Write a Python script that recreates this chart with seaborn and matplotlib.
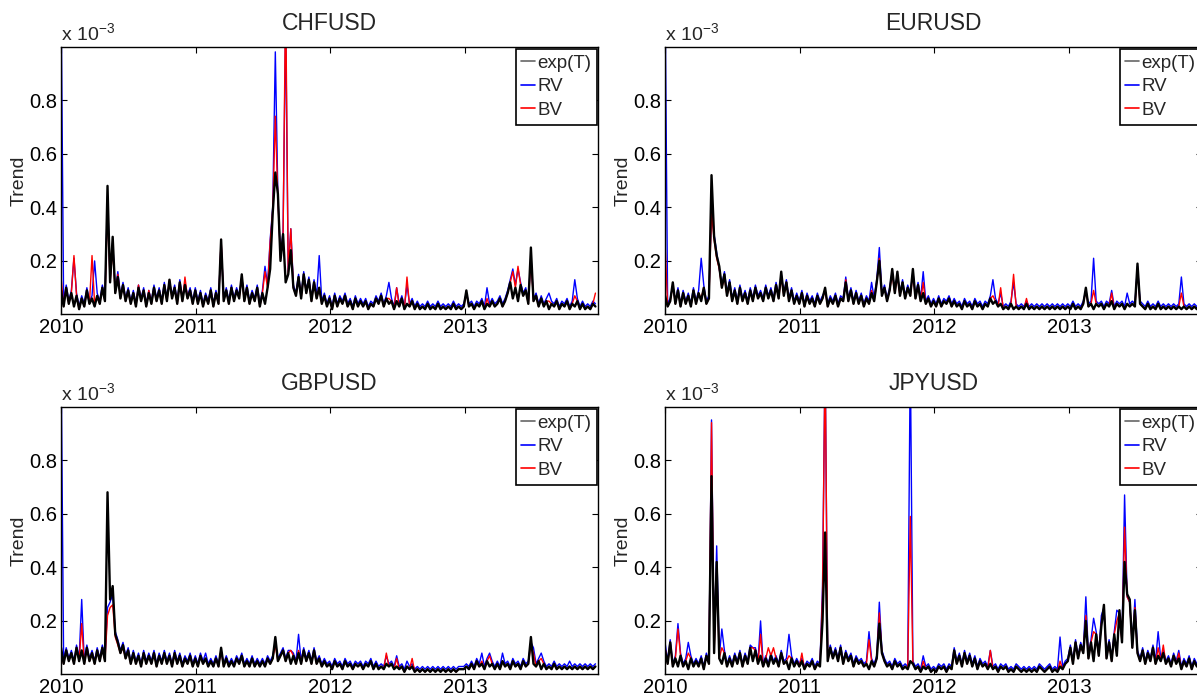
import matplotlib
matplotlib.use('Agg')
import matplotlib.pyplot as plt
import matplotlib.dates as mdates
from matplotlib.lines import Line2D
import numpy as np
import pandas as pd
import seaborn as sns

# weekly values, in units of 1e-3 (one row = one quarter)
week_dates = pd.date_range('2010-01-01', periods=208, freq='7D')
pairs = ['CHFUSD', 'EURUSD', 'GBPUSD', 'JPYUSD']
year_ticks = ['2010', '2011', '2012', '2013']
y_ticks = [0.2, 0.4, 0.6, 0.8]

chf_trend = [0.09, 0.03, 0.10, 0.04, 0.08, 0.03, 0.07, 0.02, 0.06, 0.03, 0.09, 0.04, 0.06,
             0.03, 0.07, 0.04, 0.10, 0.05, 0.48, 0.12, 0.29, 0.08, 0.14, 0.06, 0.11, 0.05,
             0.09, 0.04, 0.08, 0.03, 0.10, 0.05, 0.09, 0.03, 0.08, 0.04, 0.10, 0.05, 0.09,
             0.04, 0.11, 0.05, 0.13, 0.06, 0.10, 0.04, 0.12, 0.05, 0.11, 0.06, 0.09, 0.04,
             0.09, 0.04, 0.08, 0.03, 0.07, 0.04, 0.09, 0.03, 0.08, 0.04, 0.28, 0.05, 0.09,
             0.04, 0.10, 0.05, 0.09, 0.06, 0.15, 0.05, 0.10, 0.04, 0.08, 0.05, 0.10, 0.03,
             0.08, 0.04, 0.10, 0.17, 0.38, 0.53, 0.45, 0.20, 0.30, 0.12, 0.15, 0.24, 0.10,
             0.07, 0.14, 0.06, 0.15, 0.08, 0.13, 0.05, 0.12, 0.06, 0.10, 0.04, 0.07, 0.03,
             0.06, 0.02, 0.07, 0.03, 0.06, 0.04, 0.07, 0.03, 0.05, 0.02, 0.06, 0.03, 0.05,
             0.03, 0.05, 0.02, 0.04, 0.03, 0.06, 0.04, 0.07, 0.03, 0.06, 0.04, 0.05, 0.02,
             0.05, 0.03, 0.06, 0.02, 0.04, 0.03, 0.05, 0.02, 0.04, 0.02, 0.03, 0.02, 0.04,
             0.02, 0.03, 0.02, 0.04, 0.02, 0.03, 0.02, 0.03, 0.02, 0.04, 0.02, 0.03, 0.02,
             0.03, 0.09, 0.03, 0.04, 0.02, 0.04, 0.03, 0.05, 0.02, 0.04, 0.03, 0.05, 0.03,
             0.04, 0.06, 0.03, 0.05, 0.08, 0.12, 0.06, 0.10, 0.05, 0.11, 0.07, 0.09, 0.04,
             0.25, 0.05, 0.07, 0.03, 0.06, 0.03, 0.05, 0.02, 0.04, 0.03, 0.05, 0.02, 0.04,
             0.03, 0.05, 0.02, 0.04, 0.03, 0.05, 0.02, 0.04, 0.02, 0.03, 0.02, 0.04, 0.03]
chf_rv = [1.20, 0.04, 0.11, 0.05, 0.09, 0.21, 0.08, 0.03, 0.07, 0.04, 0.10, 0.05, 0.07,
          0.20, 0.08, 0.05, 0.11, 0.06, 0.44, 0.13, 0.27, 0.09, 0.16, 0.07, 0.12, 0.06,
          0.10, 0.05, 0.09, 0.04, 0.11, 0.06, 0.10, 0.04, 0.09, 0.05, 0.11, 0.06, 0.10,
          0.05, 0.12, 0.06, 0.12, 0.07, 0.11, 0.05, 0.13, 0.06, 0.12, 0.07, 0.10, 0.05,
          0.10, 0.05, 0.09, 0.04, 0.08, 0.05, 0.10, 0.04, 0.09, 0.05, 0.27, 0.06, 0.10,
          0.05, 0.11, 0.06, 0.10, 0.07, 0.14, 0.06, 0.11, 0.05, 0.09, 0.06, 0.11, 0.04,
          0.09, 0.18, 0.11, 0.28, 0.40, 0.98, 0.44, 0.22, 0.31, 1.10, 0.16, 0.32, 0.11,
          0.08, 0.15, 0.07, 0.16, 0.09, 0.14, 0.06, 0.13, 0.07, 0.22, 0.05, 0.08, 0.04,
          0.07, 0.03, 0.08, 0.04, 0.07, 0.05, 0.08, 0.04, 0.06, 0.03, 0.07, 0.04, 0.06,
          0.04, 0.06, 0.03, 0.05, 0.04, 0.07, 0.05, 0.08, 0.04, 0.07, 0.12, 0.06, 0.03,
          0.10, 0.04, 0.07, 0.03, 0.11, 0.04, 0.06, 0.03, 0.05, 0.03, 0.04, 0.03, 0.05,
          0.03, 0.04, 0.03, 0.05, 0.03, 0.04, 0.03, 0.04, 0.03, 0.05, 0.03, 0.04, 0.03,
          0.04, 0.08, 0.04, 0.05, 0.03, 0.05, 0.04, 0.06, 0.03, 0.10, 0.04, 0.06, 0.04,
          0.05, 0.07, 0.04, 0.06, 0.09, 0.13, 0.17, 0.11, 0.17, 0.12, 0.08, 0.10, 0.05,
          0.22, 0.06, 0.08, 0.04, 0.07, 0.04, 0.06, 0.08, 0.05, 0.04, 0.06, 0.03, 0.05,
          0.04, 0.06, 0.03, 0.05, 0.13, 0.06, 0.03, 0.05, 0.03, 0.04, 0.03, 0.05, 0.04]
chf_bv = [0.14, 0.03, 0.10, 0.04, 0.08, 0.22, 0.07, 0.02, 0.06, 0.03, 0.09, 0.04, 0.22,
          0.04, 0.07, 0.04, 0.10, 0.05, 0.40, 0.12, 0.25, 0.08, 0.15, 0.06, 0.11, 0.05,
          0.09, 0.04, 0.08, 0.03, 0.11, 0.05, 0.09, 0.03, 0.09, 0.04, 0.10, 0.05, 0.09,
          0.04, 0.11, 0.05, 0.13, 0.06, 0.10, 0.04, 0.12, 0.05, 0.14, 0.06, 0.09, 0.04,
          0.09, 0.04, 0.08, 0.03, 0.07, 0.04, 0.09, 0.03, 0.08, 0.04, 0.28, 0.05, 0.09,
          0.04, 0.10, 0.05, 0.09, 0.06, 0.14, 0.05, 0.10, 0.04, 0.08, 0.05, 0.10, 0.03,
          0.08, 0.16, 0.10, 0.27, 0.39, 0.74, 0.43, 0.21, 0.29, 1.20, 0.15, 0.32, 0.10,
          0.07, 0.14, 0.06, 0.15, 0.08, 0.13, 0.05, 0.12, 0.06, 0.10, 0.04, 0.07, 0.03,
          0.06, 0.02, 0.07, 0.03, 0.06, 0.04, 0.07, 0.03, 0.05, 0.02, 0.06, 0.03, 0.05,
          0.03, 0.05, 0.02, 0.04, 0.03, 0.06, 0.04, 0.07, 0.03, 0.06, 0.06, 0.05, 0.02,
          0.10, 0.03, 0.06, 0.02, 0.14, 0.03, 0.05, 0.02, 0.04, 0.02, 0.03, 0.02, 0.04,
          0.02, 0.03, 0.02, 0.04, 0.02, 0.03, 0.02, 0.03, 0.02, 0.04, 0.02, 0.03, 0.02,
          0.03, 0.08, 0.03, 0.04, 0.02, 0.04, 0.03, 0.05, 0.02, 0.06, 0.03, 0.05, 0.03,
          0.04, 0.06, 0.03, 0.05, 0.08, 0.12, 0.16, 0.10, 0.18, 0.11, 0.07, 0.09, 0.04,
          0.21, 0.05, 0.07, 0.03, 0.06, 0.03, 0.05, 0.05, 0.04, 0.03, 0.05, 0.02, 0.04,
          0.03, 0.05, 0.02, 0.04, 0.07, 0.05, 0.02, 0.04, 0.02, 0.03, 0.02, 0.04, 0.08]

eur_trend = [0.07, 0.03, 0.05, 0.12, 0.04, 0.09, 0.03, 0.08, 0.04, 0.07, 0.03, 0.09, 0.04,
             0.08, 0.05, 0.10, 0.04, 0.06, 0.52, 0.29, 0.22, 0.18, 0.10, 0.15, 0.07, 0.12,
             0.05, 0.09, 0.04, 0.10, 0.05, 0.08, 0.04, 0.09, 0.05, 0.10, 0.06, 0.08, 0.05,
             0.10, 0.06, 0.09, 0.05, 0.11, 0.06, 0.16, 0.07, 0.12, 0.05, 0.09, 0.04, 0.07,
             0.04, 0.08, 0.03, 0.07, 0.04, 0.06, 0.03, 0.07, 0.04, 0.06, 0.10, 0.03, 0.06,
             0.04, 0.07, 0.03, 0.06, 0.05, 0.12, 0.05, 0.09, 0.04, 0.08, 0.04, 0.07, 0.03,
             0.06, 0.04, 0.08, 0.05, 0.12, 0.20, 0.07, 0.10, 0.05, 0.09, 0.17, 0.08, 0.16,
             0.07, 0.12, 0.06, 0.10, 0.07, 0.17, 0.06, 0.11, 0.05, 0.08, 0.04, 0.06, 0.03,
             0.05, 0.03, 0.06, 0.03, 0.05, 0.04, 0.06, 0.03, 0.05, 0.03, 0.04, 0.02, 0.05,
             0.03, 0.04, 0.02, 0.05, 0.03, 0.04, 0.02, 0.04, 0.03, 0.06, 0.04, 0.05, 0.03,
             0.04, 0.02, 0.03, 0.02, 0.04, 0.02, 0.03, 0.02, 0.03, 0.02, 0.04, 0.02, 0.03,
             0.02, 0.03, 0.02, 0.03, 0.02, 0.03, 0.02, 0.03, 0.02, 0.03, 0.02, 0.03, 0.02,
             0.03, 0.02, 0.04, 0.02, 0.03, 0.02, 0.04, 0.10, 0.03, 0.04, 0.02, 0.04, 0.03,
             0.04, 0.02, 0.04, 0.03, 0.05, 0.02, 0.04, 0.03, 0.04, 0.02, 0.04, 0.03, 0.04,
             0.03, 0.19, 0.04, 0.03, 0.02, 0.04, 0.02, 0.03, 0.02, 0.04, 0.02, 0.03, 0.02,
             0.03, 0.02, 0.03, 0.02, 0.03, 0.02, 0.03, 0.02, 0.03, 0.02, 0.03, 0.02, 0.03]
eur_rv = [1.20, 0.04, 0.06, 0.11, 0.05, 0.10, 0.04, 0.09, 0.05, 0.08, 0.04, 0.10, 0.05,
          0.09, 0.21, 0.11, 0.05, 0.07, 0.41, 0.30, 0.23, 0.17, 0.11, 0.16, 0.08, 0.13,
          0.06, 0.10, 0.05, 0.11, 0.06, 0.09, 0.05, 0.10, 0.06, 0.11, 0.07, 0.09, 0.06,
          0.11, 0.07, 0.10, 0.06, 0.12, 0.07, 0.15, 0.08, 0.13, 0.06, 0.10, 0.05, 0.08,
          0.05, 0.09, 0.04, 0.08, 0.05, 0.07, 0.04, 0.08, 0.05, 0.07, 0.09, 0.04, 0.07,
          0.05, 0.08, 0.04, 0.07, 0.06, 0.14, 0.06, 0.10, 0.05, 0.09, 0.05, 0.08, 0.04,
          0.07, 0.05, 0.12, 0.06, 0.13, 0.25, 0.08, 0.11, 0.06, 0.10, 0.16, 0.09, 0.15,
          0.08, 0.13, 0.07, 0.11, 0.08, 0.16, 0.07, 0.12, 0.06, 0.16, 0.05, 0.07, 0.04,
          0.06, 0.04, 0.07, 0.04, 0.06, 0.05, 0.07, 0.04, 0.06, 0.04, 0.05, 0.03, 0.06,
          0.04, 0.05, 0.03, 0.06, 0.04, 0.05, 0.03, 0.05, 0.04, 0.07, 0.13, 0.06, 0.04,
          0.08, 0.03, 0.04, 0.03, 0.05, 0.12, 0.04, 0.03, 0.04, 0.03, 0.05, 0.03, 0.04,
          0.03, 0.04, 0.03, 0.04, 0.03, 0.04, 0.03, 0.04, 0.03, 0.04, 0.03, 0.04, 0.03,
          0.04, 0.03, 0.05, 0.03, 0.04, 0.03, 0.05, 0.09, 0.04, 0.05, 0.21, 0.05, 0.04,
          0.05, 0.03, 0.05, 0.04, 0.09, 0.03, 0.05, 0.04, 0.05, 0.03, 0.08, 0.04, 0.05,
          0.04, 0.18, 0.05, 0.04, 0.03, 0.05, 0.03, 0.04, 0.03, 0.05, 0.03, 0.04, 0.03,
          0.04, 0.03, 0.04, 0.03, 0.04, 0.14, 0.04, 0.03, 0.04, 0.03, 0.04, 0.03, 0.04]
eur_bv = [0.27, 0.03, 0.05, 0.11, 0.04, 0.09, 0.03, 0.08, 0.04, 0.07, 0.03, 0.09, 0.04,
          0.08, 0.06, 0.10, 0.04, 0.06, 0.38, 0.28, 0.21, 0.17, 0.10, 0.14, 0.07, 0.11,
          0.05, 0.09, 0.04, 0.10, 0.05, 0.08, 0.04, 0.09, 0.05, 0.10, 0.06, 0.08, 0.05,
          0.10, 0.06, 0.09, 0.05, 0.11, 0.06, 0.14, 0.07, 0.12, 0.05, 0.09, 0.04, 0.07,
          0.04, 0.08, 0.03, 0.07, 0.04, 0.06, 0.03, 0.07, 0.04, 0.06, 0.09, 0.03, 0.06,
          0.04, 0.07, 0.03, 0.06, 0.05, 0.13, 0.05, 0.09, 0.04, 0.08, 0.04, 0.07, 0.03,
          0.06, 0.04, 0.09, 0.05, 0.12, 0.21, 0.07, 0.10, 0.05, 0.09, 0.15, 0.08, 0.14,
          0.07, 0.12, 0.06, 0.10, 0.07, 0.15, 0.06, 0.11, 0.05, 0.12, 0.04, 0.06, 0.03,
          0.05, 0.03, 0.06, 0.03, 0.05, 0.04, 0.06, 0.03, 0.05, 0.03, 0.04, 0.02, 0.05,
          0.03, 0.04, 0.02, 0.05, 0.03, 0.04, 0.02, 0.04, 0.03, 0.06, 0.07, 0.05, 0.03,
          0.10, 0.02, 0.03, 0.02, 0.04, 0.15, 0.03, 0.02, 0.03, 0.02, 0.06, 0.02, 0.03,
          0.02, 0.03, 0.02, 0.03, 0.02, 0.03, 0.02, 0.03, 0.02, 0.03, 0.02, 0.03, 0.02,
          0.03, 0.02, 0.04, 0.02, 0.03, 0.02, 0.04, 0.09, 0.03, 0.04, 0.09, 0.04, 0.03,
          0.04, 0.02, 0.04, 0.03, 0.08, 0.02, 0.04, 0.03, 0.04, 0.02, 0.04, 0.03, 0.04,
          0.03, 0.17, 0.04, 0.03, 0.02, 0.04, 0.02, 0.03, 0.02, 0.04, 0.02, 0.03, 0.02,
          0.03, 0.02, 0.03, 0.02, 0.03, 0.08, 0.03, 0.02, 0.03, 0.02, 0.03, 0.02, 0.03]

gbp_trend = [0.10, 0.04, 0.09, 0.05, 0.08, 0.04, 0.10, 0.05, 0.09, 0.04, 0.10, 0.05, 0.08,
             0.04, 0.09, 0.05, 0.10, 0.05, 0.68, 0.28, 0.33, 0.15, 0.12, 0.08, 0.11, 0.06,
             0.09, 0.04, 0.08, 0.04, 0.07, 0.03, 0.08, 0.04, 0.07, 0.04, 0.08, 0.03, 0.07,
             0.04, 0.08, 0.04, 0.07, 0.03, 0.08, 0.04, 0.07, 0.03, 0.06, 0.04, 0.07, 0.03,
             0.06, 0.03, 0.07, 0.04, 0.06, 0.03, 0.05, 0.03, 0.06, 0.03, 0.10, 0.03, 0.06,
             0.03, 0.05, 0.03, 0.06, 0.04, 0.07, 0.03, 0.05, 0.03, 0.06, 0.03, 0.05, 0.03,
             0.05, 0.03, 0.06, 0.04, 0.06, 0.14, 0.05, 0.07, 0.09, 0.05, 0.08, 0.04, 0.07,
             0.04, 0.08, 0.04, 0.09, 0.05, 0.08, 0.04, 0.09, 0.04, 0.06, 0.03, 0.05, 0.03,
             0.04, 0.02, 0.05, 0.03, 0.04, 0.02, 0.05, 0.03, 0.04, 0.02, 0.04, 0.03, 0.04,
             0.02, 0.04, 0.03, 0.05, 0.02, 0.04, 0.02, 0.03, 0.02, 0.04, 0.03, 0.04, 0.02,
             0.03, 0.02, 0.03, 0.01, 0.03, 0.02, 0.03, 0.01, 0.02, 0.01, 0.02, 0.01, 0.02,
             0.01, 0.02, 0.01, 0.02, 0.01, 0.02, 0.01, 0.02, 0.01, 0.02, 0.01, 0.02, 0.02,
             0.02, 0.03, 0.02, 0.04, 0.02, 0.05, 0.03, 0.04, 0.02, 0.05, 0.03, 0.04, 0.02,
             0.04, 0.02, 0.05, 0.03, 0.04, 0.02, 0.05, 0.03, 0.04, 0.02, 0.05, 0.03, 0.04,
             0.14, 0.04, 0.03, 0.05, 0.02, 0.04, 0.02, 0.03, 0.02, 0.04, 0.02, 0.03, 0.02,
             0.03, 0.02, 0.03, 0.02, 0.03, 0.02, 0.03, 0.02, 0.03, 0.02, 0.03, 0.02, 0.03]
gbp_rv = [1.20, 0.05, 0.10, 0.06, 0.09, 0.05, 0.11, 0.06, 0.28, 0.05, 0.11, 0.06, 0.09,
          0.05, 0.10, 0.06, 0.11, 0.06, 0.25, 0.27, 0.30, 0.16, 0.13, 0.09, 0.12, 0.07,
          0.10, 0.05, 0.09, 0.05, 0.08, 0.04, 0.09, 0.05, 0.08, 0.05, 0.09, 0.04, 0.08,
          0.05, 0.09, 0.05, 0.08, 0.04, 0.09, 0.05, 0.08, 0.04, 0.07, 0.05, 0.08, 0.04,
          0.07, 0.04, 0.08, 0.05, 0.08, 0.04, 0.06, 0.04, 0.07, 0.04, 0.09, 0.04, 0.07,
          0.04, 0.06, 0.04, 0.07, 0.05, 0.08, 0.04, 0.06, 0.04, 0.07, 0.04, 0.06, 0.04,
          0.06, 0.04, 0.07, 0.05, 0.07, 0.12, 0.06, 0.08, 0.10, 0.06, 0.09, 0.09, 0.08,
          0.05, 0.15, 0.05, 0.10, 0.06, 0.09, 0.05, 0.10, 0.05, 0.07, 0.04, 0.06, 0.04,
          0.05, 0.03, 0.06, 0.04, 0.05, 0.03, 0.06, 0.04, 0.05, 0.03, 0.05, 0.04, 0.05,
          0.03, 0.05, 0.04, 0.06, 0.03, 0.05, 0.03, 0.04, 0.03, 0.07, 0.04, 0.05, 0.03,
          0.07, 0.03, 0.04, 0.02, 0.05, 0.03, 0.04, 0.02, 0.03, 0.02, 0.03, 0.02, 0.03,
          0.02, 0.03, 0.02, 0.03, 0.02, 0.03, 0.02, 0.03, 0.02, 0.03, 0.02, 0.03, 0.03,
          0.03, 0.04, 0.03, 0.05, 0.03, 0.06, 0.04, 0.08, 0.03, 0.06, 0.08, 0.05, 0.03,
          0.05, 0.03, 0.08, 0.04, 0.05, 0.03, 0.06, 0.04, 0.05, 0.03, 0.06, 0.04, 0.05,
          0.12, 0.10, 0.04, 0.06, 0.08, 0.05, 0.03, 0.04, 0.03, 0.05, 0.03, 0.04, 0.03,
          0.04, 0.03, 0.05, 0.03, 0.04, 0.03, 0.04, 0.03, 0.04, 0.03, 0.04, 0.03, 0.04]
gbp_bv = [0.08, 0.04, 0.09, 0.05, 0.08, 0.04, 0.10, 0.05, 0.19, 0.04, 0.10, 0.05, 0.08,
          0.04, 0.09, 0.05, 0.10, 0.05, 0.22, 0.25, 0.26, 0.14, 0.11, 0.08, 0.10, 0.06,
          0.09, 0.04, 0.08, 0.04, 0.07, 0.03, 0.08, 0.04, 0.07, 0.04, 0.08, 0.03, 0.07,
          0.04, 0.08, 0.04, 0.07, 0.03, 0.08, 0.04, 0.07, 0.03, 0.06, 0.04, 0.07, 0.03,
          0.06, 0.03, 0.07, 0.04, 0.06, 0.03, 0.05, 0.03, 0.06, 0.03, 0.09, 0.03, 0.06,
          0.03, 0.05, 0.03, 0.06, 0.04, 0.07, 0.03, 0.05, 0.03, 0.06, 0.03, 0.05, 0.03,
          0.05, 0.03, 0.06, 0.04, 0.06, 0.11, 0.05, 0.07, 0.09, 0.05, 0.08, 0.09, 0.07,
          0.04, 0.09, 0.04, 0.09, 0.05, 0.08, 0.04, 0.09, 0.04, 0.06, 0.03, 0.05, 0.03,
          0.04, 0.02, 0.05, 0.03, 0.04, 0.02, 0.05, 0.03, 0.04, 0.02, 0.04, 0.03, 0.04,
          0.02, 0.04, 0.03, 0.05, 0.02, 0.04, 0.02, 0.03, 0.02, 0.08, 0.03, 0.04, 0.02,
          0.06, 0.02, 0.03, 0.01, 0.03, 0.02, 0.06, 0.01, 0.02, 0.01, 0.02, 0.01, 0.02,
          0.01, 0.02, 0.01, 0.02, 0.01, 0.02, 0.01, 0.02, 0.01, 0.02, 0.01, 0.02, 0.02,
          0.02, 0.03, 0.02, 0.04, 0.02, 0.05, 0.03, 0.05, 0.02, 0.05, 0.07, 0.04, 0.02,
          0.04, 0.02, 0.05, 0.03, 0.04, 0.02, 0.05, 0.03, 0.04, 0.02, 0.05, 0.03, 0.04,
          0.11, 0.08, 0.03, 0.05, 0.06, 0.04, 0.02, 0.03, 0.02, 0.04, 0.02, 0.03, 0.02,
          0.03, 0.02, 0.03, 0.02, 0.03, 0.02, 0.03, 0.02, 0.03, 0.02, 0.03, 0.02, 0.03]

jpy_trend = [0.09, 0.04, 0.12, 0.03, 0.06, 0.03, 0.07, 0.03, 0.05, 0.02, 0.06, 0.03, 0.05,
             0.03, 0.06, 0.02, 0.07, 0.04, 0.74, 0.08, 0.42, 0.06, 0.04, 0.08, 0.03, 0.06,
             0.03, 0.07, 0.04, 0.08, 0.03, 0.07, 0.04, 0.10, 0.05, 0.09, 0.04, 0.07, 0.03,
             0.06, 0.03, 0.07, 0.04, 0.06, 0.03, 0.08, 0.04, 0.05, 0.02, 0.06, 0.03, 0.05,
             0.03, 0.05, 0.02, 0.04, 0.03, 0.05, 0.02, 0.04, 0.03, 0.20, 0.53, 0.05, 0.10,
             0.06, 0.09, 0.05, 0.10, 0.04, 0.08, 0.05, 0.07, 0.03, 0.06, 0.04, 0.05, 0.03,
             0.04, 0.02, 0.05, 0.03, 0.06, 0.19, 0.08, 0.05, 0.03, 0.04, 0.02, 0.05, 0.03,
             0.04, 0.02, 0.03, 0.02, 0.05, 0.04, 0.02, 0.03, 0.01, 0.03, 0.02, 0.03, 0.01,
             0.02, 0.01, 0.03, 0.02, 0.03, 0.01, 0.03, 0.02, 0.09, 0.04, 0.07, 0.03, 0.08,
             0.04, 0.07, 0.03, 0.06, 0.02, 0.05, 0.03, 0.04, 0.02, 0.04, 0.02, 0.03, 0.01,
             0.03, 0.02, 0.03, 0.01, 0.02, 0.01, 0.03, 0.02, 0.01, 0.02, 0.01, 0.02, 0.01,
             0.02, 0.01, 0.03, 0.02, 0.01, 0.02, 0.03, 0.01, 0.02, 0.01, 0.03, 0.02, 0.04,
             0.05, 0.10, 0.04, 0.12, 0.06, 0.11, 0.08, 0.20, 0.06, 0.12, 0.05, 0.15, 0.07,
             0.18, 0.26, 0.06, 0.12, 0.05, 0.15, 0.07, 0.24, 0.12, 0.42, 0.30, 0.28, 0.10,
             0.24, 0.08, 0.05, 0.09, 0.04, 0.08, 0.05, 0.10, 0.04, 0.07, 0.05, 0.08, 0.04,
             0.06, 0.03, 0.07, 0.04, 0.06, 0.02, 0.05, 0.03, 0.06, 0.02, 0.05, 0.03, 0.04]
jpy_rv = [0.12, 0.05, 0.13, 0.04, 0.07, 0.19, 0.08, 0.04, 0.06, 0.12, 0.07, 0.04, 0.06,
          0.04, 0.07, 0.03, 0.08, 0.05, 0.95, 0.09, 0.48, 0.07, 0.17, 0.09, 0.04, 0.07,
          0.04, 0.08, 0.05, 0.09, 0.04, 0.08, 0.05, 0.11, 0.10, 0.10, 0.05, 0.20, 0.04,
          0.07, 0.04, 0.08, 0.05, 0.07, 0.04, 0.09, 0.05, 0.06, 0.15, 0.07, 0.04, 0.06,
          0.04, 0.06, 0.03, 0.05, 0.04, 0.06, 0.03, 0.05, 0.04, 0.33, 1.20, 0.06, 0.11,
          0.07, 0.10, 0.06, 0.11, 0.05, 0.09, 0.06, 0.08, 0.04, 0.07, 0.05, 0.06, 0.04,
          0.05, 0.16, 0.06, 0.04, 0.07, 0.27, 0.09, 0.06, 0.04, 0.05, 0.03, 0.06, 0.04,
          0.05, 0.03, 0.04, 0.03, 1.20, 0.05, 0.03, 0.04, 0.02, 0.07, 0.03, 0.04, 0.02,
          0.03, 0.02, 0.04, 0.03, 0.04, 0.02, 0.04, 0.03, 0.10, 0.05, 0.08, 0.04, 0.09,
          0.05, 0.08, 0.04, 0.07, 0.03, 0.06, 0.04, 0.05, 0.03, 0.09, 0.03, 0.04, 0.02,
          0.04, 0.03, 0.04, 0.02, 0.03, 0.02, 0.04, 0.03, 0.02, 0.03, 0.02, 0.03, 0.02,
          0.03, 0.02, 0.04, 0.03, 0.02, 0.03, 0.04, 0.02, 0.03, 0.02, 0.14, 0.03, 0.05,
          0.06, 0.11, 0.05, 0.13, 0.07, 0.12, 0.09, 0.29, 0.07, 0.13, 0.21, 0.16, 0.08,
          0.22, 0.25, 0.07, 0.13, 0.06, 0.16, 0.24, 0.23, 0.13, 0.67, 0.29, 0.27, 0.11,
          0.28, 0.09, 0.06, 0.10, 0.05, 0.09, 0.06, 0.11, 0.05, 0.16, 0.06, 0.09, 0.05,
          0.07, 0.04, 0.08, 0.05, 0.09, 0.03, 0.06, 0.04, 0.07, 0.03, 0.06, 0.04, 0.05]
jpy_bv = [0.10, 0.04, 0.12, 0.03, 0.06, 0.17, 0.07, 0.03, 0.05, 0.08, 0.06, 0.03, 0.05,
          0.03, 0.06, 0.02, 0.07, 0.04, 0.94, 0.08, 0.40, 0.06, 0.10, 0.08, 0.03, 0.06,
          0.03, 0.07, 0.04, 0.08, 0.03, 0.07, 0.04, 0.10, 0.10, 0.09, 0.04, 0.15, 0.03,
          0.06, 0.10, 0.07, 0.10, 0.06, 0.03, 0.08, 0.04, 0.05, 0.07, 0.06, 0.03, 0.05,
          0.03, 0.08, 0.02, 0.04, 0.03, 0.05, 0.02, 0.04, 0.03, 0.30, 1.20, 0.05, 0.10,
          0.06, 0.09, 0.05, 0.10, 0.04, 0.08, 0.05, 0.07, 0.03, 0.06, 0.04, 0.05, 0.03,
          0.04, 0.13, 0.05, 0.03, 0.06, 0.23, 0.08, 0.05, 0.03, 0.04, 0.02, 0.05, 0.03,
          0.04, 0.02, 0.03, 0.02, 0.59, 0.04, 0.02, 0.03, 0.01, 0.05, 0.02, 0.03, 0.01,
          0.02, 0.01, 0.03, 0.02, 0.03, 0.01, 0.03, 0.02, 0.09, 0.04, 0.07, 0.03, 0.08,
          0.04, 0.07, 0.03, 0.06, 0.02, 0.05, 0.03, 0.04, 0.02, 0.09, 0.02, 0.03, 0.01,
          0.03, 0.02, 0.03, 0.01, 0.02, 0.01, 0.03, 0.02, 0.01, 0.02, 0.01, 0.02, 0.01,
          0.02, 0.01, 0.03, 0.02, 0.01, 0.02, 0.03, 0.01, 0.02, 0.01, 0.05, 0.02, 0.04,
          0.05, 0.10, 0.04, 0.12, 0.06, 0.11, 0.08, 0.22, 0.06, 0.12, 0.16, 0.15, 0.07,
          0.19, 0.25, 0.06, 0.12, 0.05, 0.15, 0.20, 0.23, 0.12, 0.55, 0.29, 0.27, 0.10,
          0.25, 0.08, 0.05, 0.09, 0.04, 0.08, 0.05, 0.10, 0.04, 0.10, 0.05, 0.11, 0.04,
          0.06, 0.03, 0.07, 0.04, 0.08, 0.02, 0.05, 0.03, 0.06, 0.02, 0.05, 0.03, 0.04]

series = {
    'CHFUSD': (chf_trend, chf_rv, chf_bv),
    'EURUSD': (eur_trend, eur_rv, eur_bv),
    'GBPUSD': (gbp_trend, gbp_rv, gbp_bv),
    'JPYUSD': (jpy_trend, jpy_rv, jpy_bv),
}

sns.set_style('ticks')
plt.rcParams['font.family'] = ['Liberation Sans', 'DejaVu Sans']
plt.rcParams['mathtext.fontset'] = 'custom'
plt.rcParams['mathtext.rm'] = 'Liberation Sans'

colors = {'exp(T)': 'black', 'RV': 'blue', 'BV': 'red'}
legend_colors = {'exp(T)': '0.4', 'RV': 'blue', 'BV': 'red'}
widths = {'exp(T)': 1.7, 'RV': 1.0, 'BV': 1.0}

fig = plt.figure(figsize=(11.97, 6.97), dpi=100)
# right column runs past the right edge of the picture, like the reference crop
positions = {
    'CHFUSD': [0.051, 0.5495, 0.4486, 0.383],
    'EURUSD': [0.5556, 0.5495, 0.4486, 0.383],
    'GBPUSD': [0.051, 0.033, 0.4486, 0.383],
    'JPYUSD': [0.5556, 0.033, 0.4486, 0.383],
}

for pair in pairs:
    trend, rv, bv = series[pair]
    ax = fig.add_axes(positions[pair])

    # blue first, red next, black trend on top
    for name, y in [('RV', rv), ('BV', bv), ('exp(T)', trend)]:
        df = pd.DataFrame({'date': week_dates, 'value': y})
        sns.lineplot(data=df, x='date', y='value', color=colors[name],
                     linewidth=widths[name], estimator=None, ax=ax)

    ax.set_xlim(pd.Timestamp('2010-01-01'), pd.Timestamp('2013-12-27'))
    ax.set_ylim(0.002, 0.998)
    ax.set_xticks(pd.to_datetime(year_ticks))
    ax.xaxis.set_major_formatter(mdates.DateFormatter('%Y'))
    ax.set_yticks(y_ticks)
    ax.set_yticklabels([f'{v:.1f}' for v in y_ticks])
    ax.tick_params(direction='in', top=True, right=True, length=4,
                   width=0.8, labelsize=14.5, pad=3, colors='black')
    for spine in ax.spines.values():
        spine.set_visible(True)
        spine.set_color('black')
        spine.set_linewidth(1.0)

    ax.set_xlabel('')
    ax.set_ylabel('Trend', fontsize=14, labelpad=1)
    ax.set_title(pair, fontsize=16.5, pad=12)
    ax.text(0.0, 1.008, r'x 10$^{\mathrm{-3}}$', transform=ax.transAxes,
            fontsize=14, ha='left', va='bottom')

    handles = [Line2D([], [], color=legend_colors[k], linewidth=1.2)
               for k in ['exp(T)', 'RV', 'BV']]
    leg = ax.legend(handles, ['exp(T)', 'RV', 'BV'], loc='upper right',
                    bbox_to_anchor=(0.998, 0.993), borderaxespad=0,
                    fancybox=False, framealpha=1, edgecolor='black',
                    handlelength=0.75, handletextpad=0.1, borderpad=0.3,
                    labelspacing=0.35, fontsize=13.5)
    leg.get_frame().set_linewidth(1.2)

fig.savefig('out.png', dpi=100)
